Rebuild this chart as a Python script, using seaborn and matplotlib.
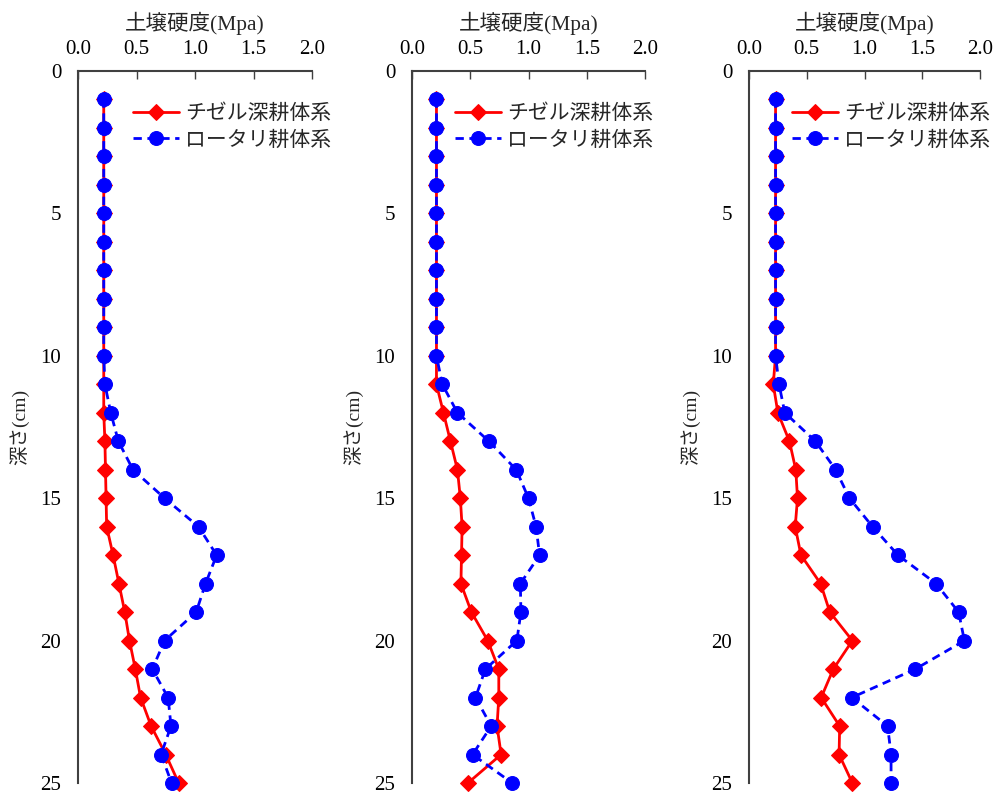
import matplotlib
matplotlib.use("Agg")
import matplotlib.pyplot as plt
import seaborn as sns
import pandas as pd

sns.set_style("white")
plt.rcParams['font.family'] = ['Liberation Serif', 'Noto Sans CJK JP', 'DejaVu Sans']

depth = list(range(1, 26))
x_ticks = [0.0, 0.5, 1.0, 1.5, 2.0]
y_ticks = [0, 5, 10, 15, 20, 25]
series_names = ["チゼル深耕体系", "ロータリ耕体系"]
xlabel = "土壌硬度(Mpa)"
ylabel = "深さ(cm)"

p1_chisel = [0.22]*11 + [0.22, 0.23, 0.235, 0.24, 0.245, 0.30, 0.35, 0.40, 0.44, 0.49, 0.535, 0.625, 0.75, 0.86]
p1_rotary = [0.22]*10 + [0.23, 0.28, 0.345, 0.47, 0.74, 1.03, 1.185, 1.09, 1.01, 0.74, 0.635, 0.77, 0.795, 0.71, 0.80]

p2_chisel = [0.21]*10 + [0.21, 0.27, 0.33, 0.39, 0.415, 0.43, 0.425, 0.42, 0.51, 0.65, 0.745, 0.745, 0.73, 0.765, 0.48]
p2_rotary = [0.21]*10 + [0.26, 0.39, 0.66, 0.895, 1.0, 1.065, 1.095, 0.93, 0.935, 0.90, 0.63, 0.545, 0.68, 0.52, 0.86]

p3_chisel = [0.23]*10 + [0.21, 0.25, 0.35, 0.405, 0.42, 0.40, 0.45, 0.62, 0.70, 0.895, 0.73, 0.625, 0.785, 0.78, 0.895]
p3_rotary = [0.23]*10 + [0.26, 0.31, 0.575, 0.75, 0.87, 1.07, 1.29, 1.62, 1.815, 1.865, 1.44, 0.89, 1.20, 1.23, 1.23]

panels = [(p1_chisel, p1_rotary), (p2_chisel, p2_rotary), (p3_chisel, p3_rotary)]

W, H = 996, 794
fig = plt.figure(figsize=(W/100, H/100), dpi=100)
lefts = [78, 412, 749]
widths = [234, 233, 231]
top, bottom = 71, 783
leg_x = [0.2, 0.15, 0.15]

for i, (ch, ro) in enumerate(panels):
    ax = fig.add_axes([lefts[i]/W, 1 - bottom/H, widths[i]/W, (bottom-top)/H])
    df = pd.DataFrame({"depth": depth * 2,
                       "value": ch + ro,
                       "series": [series_names[0]]*len(depth) + [series_names[1]]*len(depth)})
    sns.lineplot(data=df[df.series == series_names[0]], x="value", y="depth", orient="y",
                 sort=False, estimator=None, color="#ff0000", lw=2, marker="D", ms=8,
                 mec="#ff0000", ax=ax, label=series_names[0], clip_on=False, zorder=3)
    sns.lineplot(data=df[df.series == series_names[1]], x="value", y="depth", orient="y",
                 sort=False, estimator=None, color="#0000ff", lw=2, ls=(0, (3, 2)), marker="o", ms=10,
                 mec="#0000ff", ax=ax, label=series_names[1], clip_on=False, zorder=4)
    ax.set_xlim(0, 2)
    ax.set_ylim(25, 0)
    ax.set_xticks(x_ticks)
    ax.set_xticklabels([f"{v:.1f}" for v in x_ticks])
    ax.set_yticks(y_ticks)
    ax.xaxis.tick_top()
    ax.xaxis.set_label_position("top")
    ax.set_xlabel(xlabel, fontsize=15.5, labelpad=7)
    ax.set_ylabel(ylabel, fontsize=14, labelpad=8)
    ax.tick_params(axis="both", direction="in", length=6, width=1, labelsize=15, colors="#404040",
                   labelcolor="black")
    ax.tick_params(axis="x", pad=9)
    ax.tick_params(axis="y", pad=12)
    for s in ["right", "bottom"]:
        ax.spines[s].set_visible(False)
    for s in ["left", "top"]:
        ax.spines[s].set_color("#404040")
        ax.spines[s].set_linewidth(1.5)
    ax.grid(False)
    leg = ax.legend(loc="upper left", bbox_to_anchor=(leg_x[i], 0.965), frameon=False, fontsize=15,
                    handlelength=2.2, handletextpad=0.3, labelspacing=0.35, borderaxespad=0)

fig.savefig("out.png", dpi=100)
